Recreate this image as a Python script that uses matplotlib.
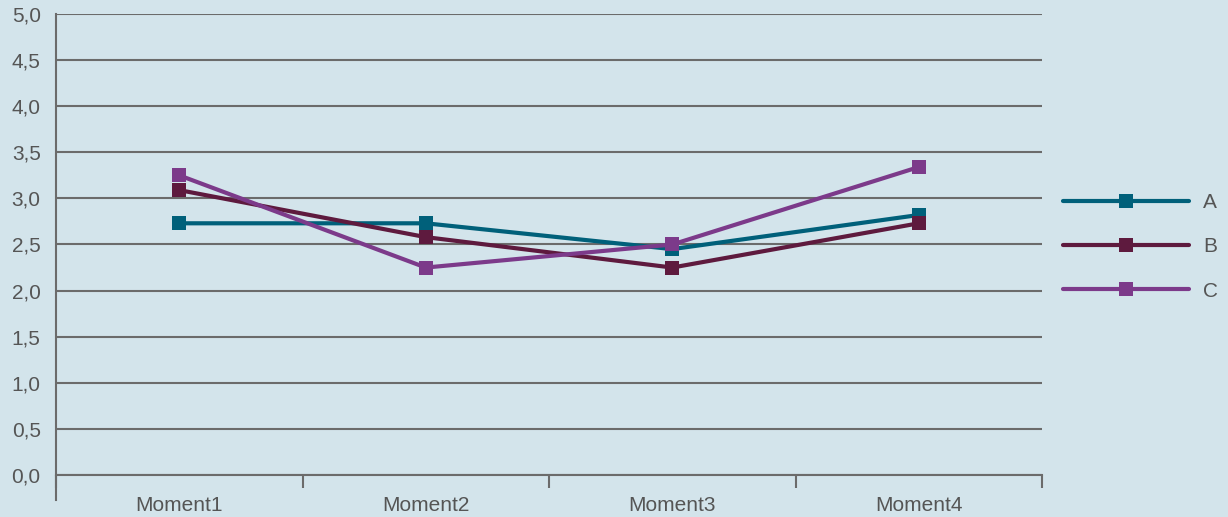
import matplotlib
matplotlib.use('Agg')
import matplotlib.pyplot as plt
import numpy as np

plt.rcParams['font.family'] = ['Liberation Sans', 'DejaVu Sans']

# Data
moments = ["Moment1", "Moment2", "Moment3", "Moment4"]
series_a = [2.73, 2.73, 2.45, 2.82]
series_b = [3.09, 2.58, 2.25, 2.73]
series_c = [3.25, 2.25, 2.50, 3.34]
labels = ["A", "B", "C"]
colors = ["#00607a", "#5e1a3e", "#7c3a8a"]

bg = "#d3e4eb"
grid_col = "#6b6b6b"
text_col = "#555555"
fs = 15

fig = plt.figure(figsize=(12.28, 5.17), dpi=100, facecolor=bg)
ax = fig.add_axes([56/1228, 1 - 475/517, (1042 - 56)/1228, (475 - 14)/517])
ax.set_facecolor(bg)

x = np.arange(1, len(moments) + 1)
for vals, lab, col in zip([series_a, series_b, series_c], labels, colors):
    ax.plot(x, vals, color=col, lw=3, marker='s', markersize=10,
            markeredgewidth=0, label=lab, solid_capstyle='round')

ax.set_xlim(0.5, len(moments) + 0.5)
ax.set_ylim(0, 5)

# horizontal gridlines
yt = np.arange(0, 5.01, 0.5)
for y in yt:
    ax.axhline(y, color=grid_col, lw=1.5, zorder=0)
ax.set_yticks(yt)
ax.set_yticklabels([f"{v:.1f}".replace('.', ',') for v in yt])
ax.tick_params(axis='y', length=0, pad=11, labelsize=fs, labelcolor=text_col)

# category ticks between groups
ax.set_xticks(np.arange(0.5, len(moments) + 1, 1.0))
ax.set_xticklabels([])
ax.set_xticks(x, minor=True)
ax.set_xticklabels(moments, minor=True)
ax.tick_params(axis='x', which='major', direction='out', length=9, width=1.5, color=grid_col)
ax.tick_params(axis='x', which='minor', length=0, pad=15, labelsize=fs, labelcolor=text_col)

for s in ['top', 'right']:
    ax.spines[s].set_visible(False)
ax.spines['left'].set_color(grid_col)
ax.spines['left'].set_linewidth(1.5)
ax.spines['left'].set_bounds(-0.27, 5)
ax.spines['bottom'].set_color(grid_col)
ax.spines['bottom'].set_linewidth(1.5)

leg = fig.legend(loc='center left', bbox_to_anchor=(1063/1228, 1 - 247/517),
                 frameon=False, handlelength=6.05, fontsize=fs, labelspacing=1.21,
                 handletextpad=0.67, borderaxespad=0, borderpad=0,
                 labelcolor=text_col)

fig.savefig("out.png", dpi=100, facecolor=bg)
